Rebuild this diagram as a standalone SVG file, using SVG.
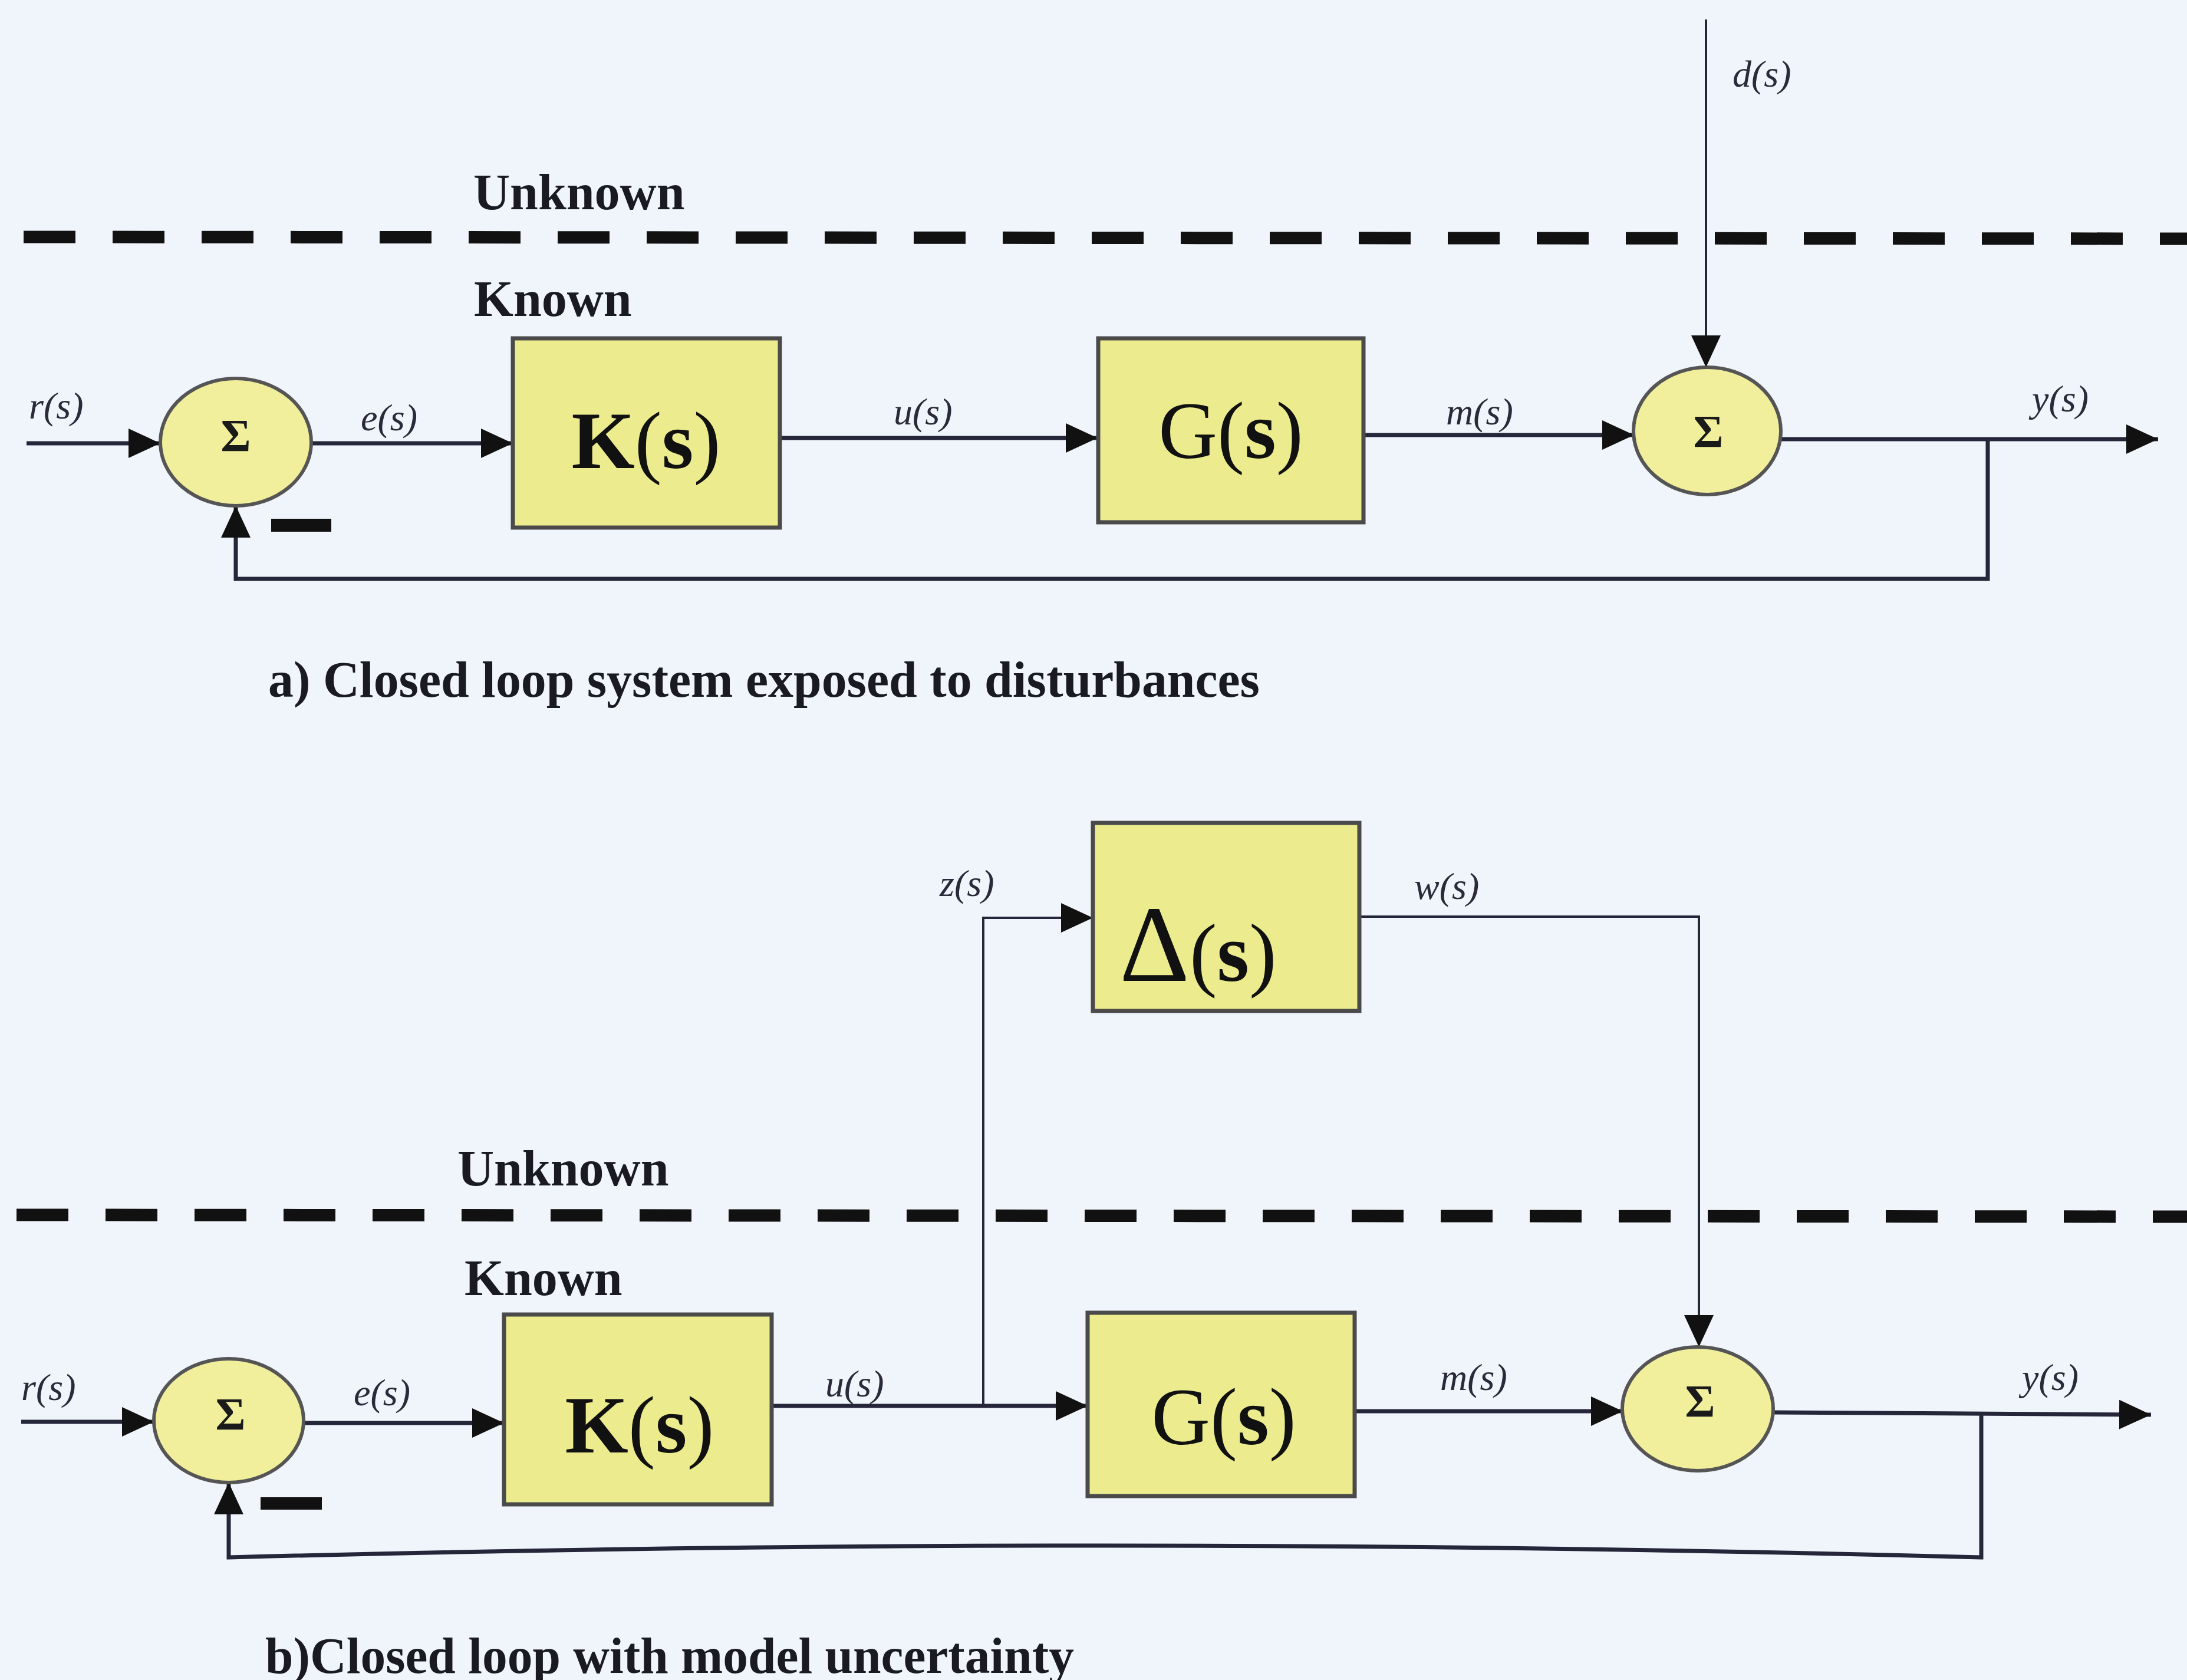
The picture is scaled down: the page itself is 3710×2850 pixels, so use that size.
<svg xmlns="http://www.w3.org/2000/svg" width="3710" height="2850" viewBox="0 0 3710 2850">
<style>
.bg{fill:#f0f5fb}
.box{fill:#ecec8e;stroke:#4a4a4a;stroke-width:7}
.sum{fill:#f1ef9c;stroke:#555555;stroke-width:6}
.sig{fill:none;stroke:#26263a;stroke-width:7}
.thin{fill:none;stroke:#26263a;stroke-width:4}
.dash{fill:none;stroke:#111111;stroke-width:21;stroke-dasharray:88 63}
.lbl{font-family:"Liberation Serif","Times New Roman",serif;font-style:italic;font-size:64px;fill:#2a2a3a}
.hdr{font-family:"Liberation Serif","Times New Roman",serif;font-weight:bold;font-size:86px;fill:#1a1a22}
.cap{font-family:"Liberation Serif","Times New Roman",serif;font-weight:bold;font-size:86px;fill:#1a1a22}
.sig-s{font-family:"Liberation Serif","Times New Roman",serif;font-weight:bold;font-size:78px;fill:#1a1a1a;text-anchor:middle}
.blk{font-family:"Liberation Serif","Times New Roman",serif;font-size:138px;fill:#111111;text-anchor:middle}
.b{font-weight:bold}
.minus{fill:#111111}
</style>
<defs>
<marker id="ah" markerUnits="userSpaceOnUse" markerWidth="56" markerHeight="52" refX="54" refY="25" orient="auto">
<path d="M0,0 L54,25 L0,50 z" fill="#111111"/>
</marker>
</defs>
<rect class="bg" x="0" y="0" width="3710" height="2850"/>

<!-- ===== Diagram a ===== -->
<g id="boundary-a">
<line class="dash" x1="40" y1="402" x2="3710" y2="405"/>
<text class="hdr" x="803" y="355">Unknown</text>
<text class="hdr" x="804" y="536">Known</text>
</g>

<g id="connectors-a">
<line class="sig" x1="45" y1="752" x2="272" y2="752" marker-end="url(#ah)"/>
<line class="sig" x1="528" y1="752" x2="870" y2="752" marker-end="url(#ah)"/>
<line class="sig" x1="1323" y1="743" x2="1862" y2="743" marker-end="url(#ah)"/>
<line class="sig" x1="2313" y1="738" x2="2772" y2="738" marker-end="url(#ah)"/>
<line class="thin" x1="2894" y1="33" x2="2894" y2="623" marker-end="url(#ah)"/>
<line class="sig" x1="3020" y1="745" x2="3661" y2="745" marker-end="url(#ah)"/>
<polyline class="sig" points="3372,745 3372,982 400,982 400,858" marker-end="url(#ah)"/>
</g>

<g id="sum-a1">
<ellipse class="sum" cx="400" cy="750" rx="128" ry="108"/>
<text class="sig-s" x="400" y="765">Σ</text>
</g>
<rect class="minus" x="460" y="880" width="102" height="22"/>

<g id="K-a">
<rect class="box" x="870" y="574" width="453" height="321"/>
<text class="blk" x="1096" y="794"><tspan class="b">K</tspan>(<tspan class="b">s</tspan>)</text>
</g>

<g id="G-a">
<rect class="box" x="1863" y="574" width="450" height="312"/>
<text class="blk" x="2088" y="777">G(<tspan class="b">s</tspan>)</text>
</g>

<g id="sum-a2">
<ellipse class="sum" cx="2896" cy="731" rx="125" ry="108"/>
<text class="sig-s" x="2898" y="758">Σ</text>
</g>

<g id="labels-a">
<text class="lbl" x="49" y="710">r(s)</text>
<text class="lbl" x="612" y="730">e(s)</text>
<text class="lbl" x="1516" y="720">u(s)</text>
<text class="lbl" x="2453" y="720">m(s)</text>
<text class="lbl" x="2939" y="147">d(s)</text>
<text class="lbl" x="3447" y="698">y(s)</text>
</g>

<text class="cap" x="455" y="1182" textLength="1682" lengthAdjust="spacingAndGlyphs">a) Closed loop system exposed to disturbances</text>

<!-- ===== Diagram b ===== -->
<g id="boundary-b">
<line class="dash" x1="28" y1="2061" x2="3710" y2="2064"/>
<text class="hdr" x="776" y="2011">Unknown</text>
<text class="hdr" x="788" y="2197">Known</text>
</g>

<g id="connectors-b">
<line class="sig" x1="36" y1="2412" x2="261" y2="2412" marker-end="url(#ah)"/>
<line class="sig" x1="515" y1="2414" x2="855" y2="2414" marker-end="url(#ah)"/>
<line class="sig" x1="1309" y1="2385" x2="1845" y2="2385" marker-end="url(#ah)"/>
<polyline class="thin" points="1668,2385 1668,1557 1854,1557" marker-end="url(#ah)"/>
<polyline class="thin" points="2306,1555 2882,1555 2882,2285" marker-end="url(#ah)"/>
<line class="sig" x1="2298" y1="2394" x2="2753" y2="2394" marker-end="url(#ah)"/>
<line class="sig" x1="3008" y1="2396" x2="3649" y2="2400" marker-end="url(#ah)"/>
<path class="sig" d="M3361,2398 V2642 Q1875,2602 388,2642 V2515" marker-end="url(#ah)"/>
</g>

<g id="Delta-b">
<rect class="box" x="1854" y="1396" width="452" height="319"/>
<text class="blk" x="1899" y="1664" style="text-anchor:start"><tspan font-size="185">Δ</tspan><tspan font-size="140">(<tspan class="b">s</tspan>)</tspan></text>
</g>

<g id="sum-b1">
<ellipse class="sum" cx="388" cy="2410" rx="127" ry="105"/>
<text class="sig-s" x="391" y="2425">Σ</text>
</g>
<rect class="minus" x="442" y="2540" width="104" height="21"/>

<g id="K-b">
<rect class="box" x="855" y="2230" width="454" height="322"/>
<text class="blk" x="1085" y="2464"><tspan class="b">K</tspan>(<tspan class="b">s</tspan>)</text>
</g>

<g id="G-b">
<rect class="box" x="1845" y="2227" width="453" height="311"/>
<text class="blk" x="2076" y="2450">G(<tspan class="b">s</tspan>)</text>
</g>

<g id="sum-b2">
<ellipse class="sum" cx="2880" cy="2390" rx="128" ry="105"/>
<text class="sig-s" x="2884" y="2403">Σ</text>
</g>

<g id="labels-b">
<text class="lbl" x="1594" y="1520">z(s)</text>
<text class="lbl" x="2399" y="1525">w(s)</text>
<text class="lbl" x="36" y="2375">r(s)</text>
<text class="lbl" x="600" y="2384">e(s)</text>
<text class="lbl" x="1400" y="2369">u(s)</text>
<text class="lbl" x="2443" y="2358">m(s)</text>
<text class="lbl" x="3430" y="2358">y(s)</text>
</g>

<text class="cap" x="450" y="2838" textLength="1372" lengthAdjust="spacingAndGlyphs">b)Closed loop with model uncertainty</text>
</svg>
